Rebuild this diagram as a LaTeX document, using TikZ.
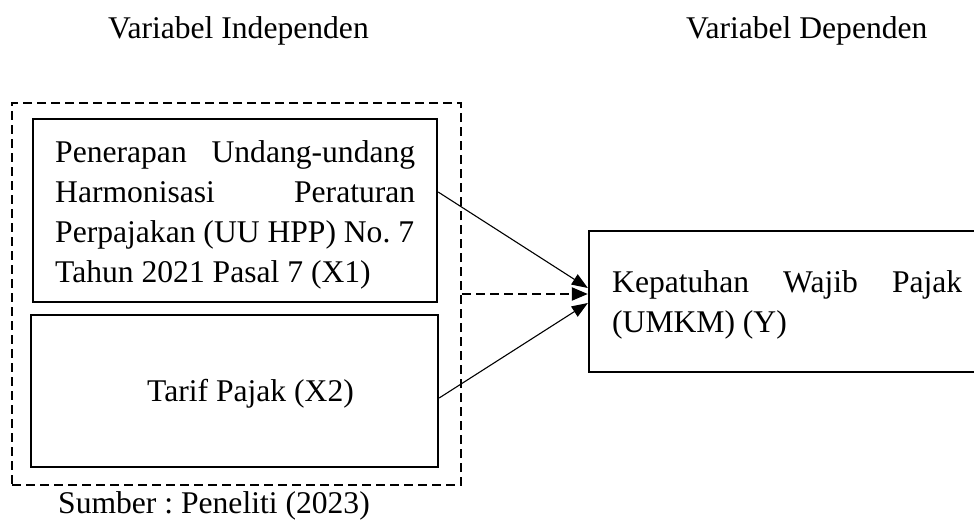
\documentclass[tikz,border=0pt]{standalone}
\usepackage{fontspec}
\setmainfont{Liberation Serif}
\usetikzlibrary{arrows.meta}
\frenchspacing
\tikzset{
  box/.style={draw, line width=2.3pt, inner sep=0pt},
  dbox/.style={draw, line width=2pt, dash pattern=on 9pt off 5pt, inner sep=0pt},
  txt/.style={inner sep=0pt, anchor=base west, font=\fontsize{31.6}{40}\selectfont},
  arr/.style={line width=1.1pt, -{Triangle[length=16pt,width=12pt]}},
  darr/.style={line width=2pt, dash pattern=on 9pt off 5pt, -{Triangle[length=16pt,width=13pt]}}
}
\begin{document}
\frenchspacing
\begin{tikzpicture}[x=1pt,y=-1pt]
\useasboundingbox (0,0) rectangle (974,527);
% boxes
\node[dbox, minimum width=449pt, minimum height=382pt] (outer) at (236.5,294) {};
\node[box, minimum width=404pt, minimum height=183pt] (x1) at (235,210.5) {};
\node[box, minimum width=407pt, minimum height=152pt] (x2) at (234.5,391) {};
\node[box, minimum width=391pt, minimum height=141pt] (y) at (784.5,301.5) {};
% texts
\node[txt] (hi) at (108,38) {Variabel Independen};
\node[txt] (hd) at (686,38) {Variabel Dependen};
\node[txt] (tx1) at (55,162) {\parbox[t]{360pt}{\frenchspacing Penerapan\hfill Undang-undang\\Harmonisasi\hfill Peraturan\\Perpajakan (UU HPP) No. 7\\Tahun 2021 Pasal 7 (X1)}};
\node[txt] (tx2) at (147,401) {Tarif Pajak (X2)};
\node[txt] (ty) at (612,292) {\parbox[t]{350pt}{Kepatuhan\hfill Wajib\hfill Pajak\\(UMKM) (Y)}};
\node[txt] (src) at (58,513) {Sumber : Peneliti (2023)};
% connectors
\draw[arr] (x1.east |- 0,192) -- (y.west |- 0,288);
\draw[darr] (outer.east |- 0,294) -- (y.west |- 0,294);
\draw[arr] (x2.east |- 0,398) -- (y.west |- 0,303);
\end{tikzpicture}
\end{document}
